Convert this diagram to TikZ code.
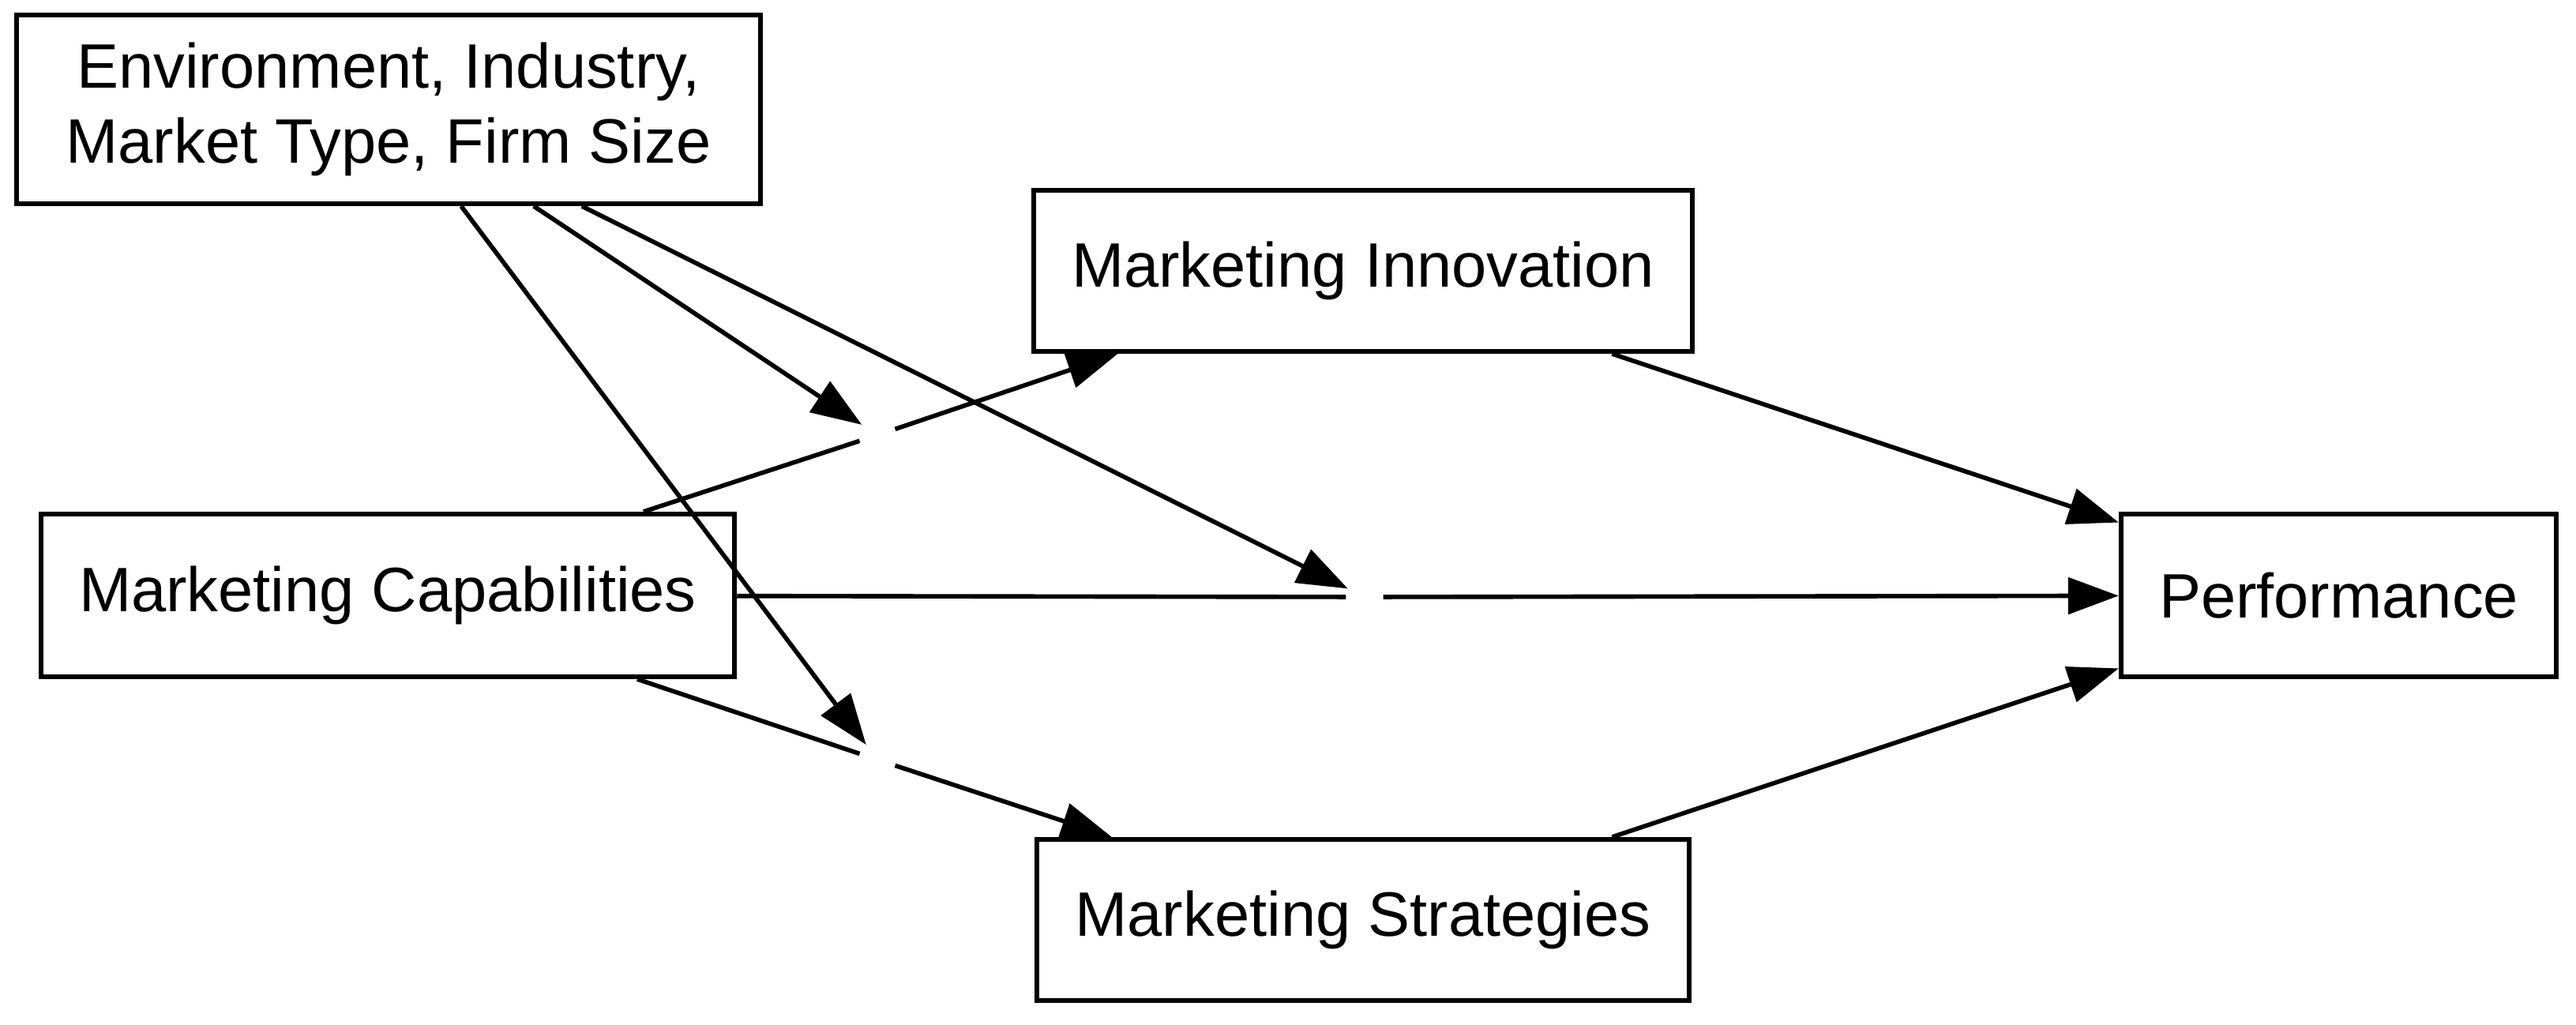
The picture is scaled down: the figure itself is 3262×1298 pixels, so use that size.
\documentclass[tikz,border=0pt]{standalone}
\usepackage{fontspec}
\setmainfont{Liberation Sans}
\usetikzlibrary{arrows.meta}
\begin{document}
\begin{tikzpicture}[x=0.01cm,y=-0.01cm,
  box/.style={draw=black,fill=white,line width=1.7pt,inner sep=0pt,align=center,
    font=\fontsize{22.6pt}{27.1pt}\selectfont},
  hub/.style={circle,inner sep=0pt,minimum size=0.46cm},
  edge/.style={line width=1.6pt,black},
  arr/.style={edge,-{Triangle[length=0.64cm,width=0.46cm]}}]
\useasboundingbox[fill=white] (0,0) rectangle (3262,1298);
\node[box,minimum width=9.42cm,minimum height=2.39cm] (env) at (492,138.5) {Environment, Industry,\\Market Type, Firm Size};
\node[box,minimum width=8.34cm,minimum height=2.04cm] (inn) at (1726,343) {Marketing Innovation};
\node[box,minimum width=8.78cm,minimum height=2.06cm] (cap) at (491,754) {Marketing Capabilities};
\node[box,minimum width=5.51cm,minimum height=2.06cm] (perf) at (2961.5,754) {Performance};
\node[box,minimum width=8.26cm,minimum height=2.04cm] (str) at (1726,1165) {Marketing Strategies};
\node[hub] (p1) at (1111,551) {};
\node[hub] (p2) at (1728,756) {};
\node[hub] (p3) at (1111,962) {};
\draw[edge] (cap) -- (p1);
\draw[arr] (p1) -- (inn);
\draw[edge] (cap) -- (p2);
\draw[arr] (p2) -- (perf);
\draw[edge] (cap) -- (p3);
\draw[arr] (p3) -- (str);
\draw[arr] (inn) -- (perf);
\draw[arr] (str) -- (perf);
\draw[arr] (env) -- (p1);
\draw[arr] (env) -- (p2);
\draw[arr] (env) -- (p3);
\end{tikzpicture}
\end{document}
